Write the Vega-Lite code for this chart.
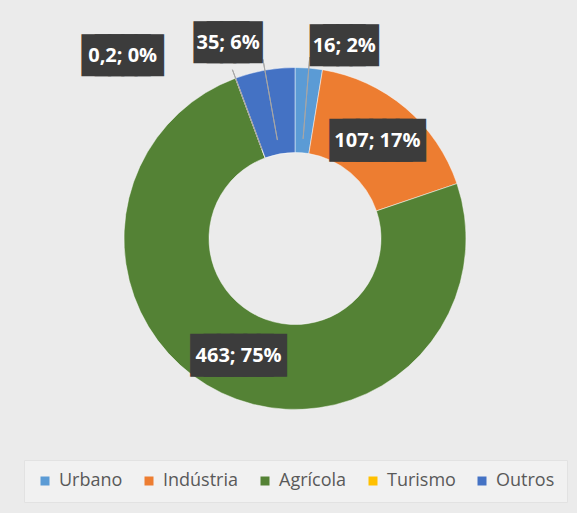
{
  "$schema": "https://vega.github.io/schema/vega-lite/v6.json",
  "width": 577,
  "height": 513,
  "autosize": {"type": "fit", "contains": "padding"},
  "padding": {"left": 6, "top": 12, "right": 6, "bottom": 0},
  "background": "#ebebeb",
  "config": {
    "view": {"stroke": null}
  },
  "data": {"values": [
    {"cat": "Urbano", "v": 16, "label": "16; 2%", "ord": 1},
    {"cat": "Indústria", "v": 107, "label": "107; 17%", "ord": 2},
    {"cat": "Agrícola", "v": 463, "label": "463; 75%", "ord": 3},
    {"cat": "Turismo", "v": 0.2, "label": "0,2; 0%", "ord": 4},
    {"cat": "Outros", "v": 35, "label": "35; 6%", "ord": 5}
  ]},
  "encoding": {
    "theta": {"field": "v", "type": "quantitative", "stack": true},
    "order": {"field": "ord", "type": "quantitative"}
  },
  "layer": [
    {
      "mark": {"type": "arc", "innerRadius": 86, "outerRadius": 171, "xOffset": 6.5, "yOffset": -24, "stroke": "#ffffff", "strokeWidth": 0.8, "strokeOpacity": 0.6},
      "encoding": {
        "color": {
          "field": "cat", "type": "nominal",
          "scale": {"domain": ["Urbano", "Indústria", "Agrícola", "Turismo", "Outros"], "range": ["#5B9BD5", "#ED7D31", "#548235", "#FFC000", "#4472C4"]},
          "legend": {"orient": "none", "legendX": 18, "legendY": 448, "direction": "horizontal", "title": null, "symbolType": "square", "symbolSize": 81, "symbolStrokeWidth": 0, "labelFont": "Open Sans", "labelFontSize": 18, "labelColor": "#595959", "columnPadding": 17, "labelOffset": 5, "padding": 12, "fillColor": "#f1f1f1", "strokeColor": "#e2e2e2"}
        }
      }
    },
    {
      "mark": {"type": "arc", "innerRadius": 100, "outerRadius": 182, "padAngle": 3, "xOffset": 6.5, "yOffset": -24, "fill": null, "stroke": "#a6a6a6", "strokeWidth": 1},
      "encoding": {"detail": {"field": "cat"}, "strokeOpacity": {"condition": {"test": "datum.cat === 'Urbano' || datum.cat === 'Outros'", "value": 1}, "value": 0}}
    },
    {
      "mark": {"type": "arc", "innerRadius": 95, "outerRadius": 180, "padAngle": 3, "xOffset": 6.5, "yOffset": -24, "fill": null, "stroke": "#a6a6a6", "strokeWidth": 1},
      "encoding": {"detail": {"field": "cat"}, "strokeOpacity": {"condition": {"test": "datum.cat === 'Turismo'", "value": 1}, "value": 0}}
    },
    {
      "mark": {"type": "text", "radius": 195, "dx": 40, "dy": -22, "align": "center", "baseline": "middle", "font": "DejaVu Sans Mono", "fontSize": 22, "fill": "#3c3c3c", "stroke": "#3c3c3c", "strokeWidth": 16, "strokeJoin": "miter"},
      "encoding": {"detail": {"field": "cat"}, "text": {"condition": {"test": "datum.cat === 'Urbano'", "value": "████"}, "value": ""}}
    },
    {
      "mark": {"type": "text", "radius": 195, "dx": 40, "dy": -22, "align": "center", "baseline": "middle", "font": "Open Sans", "fontWeight": "bold", "fontSize": 20, "fill": "#ffffff"},
      "encoding": {"detail": {"field": "cat"}, "text": {"condition": {"test": "datum.cat === 'Urbano'", "field": "label"}, "value": ""}}
    },
    {
      "mark": {"type": "text", "radius": 201, "dx": -25, "dy": -22, "align": "center", "baseline": "middle", "font": "DejaVu Sans Mono", "fontSize": 22, "fill": "#3c3c3c", "stroke": "#3c3c3c", "strokeWidth": 16, "strokeJoin": "miter"},
      "encoding": {"detail": {"field": "cat"}, "text": {"condition": {"test": "datum.cat === 'Outros'", "value": "████"}, "value": ""}}
    },
    {
      "mark": {"type": "text", "radius": 201, "dx": -25, "dy": -22, "align": "center", "baseline": "middle", "font": "Open Sans", "fontWeight": "bold", "fontSize": 20, "fill": "#ffffff"},
      "encoding": {"detail": {"field": "cat"}, "text": {"condition": {"test": "datum.cat === 'Outros'", "field": "label"}, "value": ""}}
    },
    {
      "mark": {"type": "text", "radius": 244, "dx": -81, "dy": 22, "align": "center", "baseline": "middle", "font": "DejaVu Sans Mono", "fontSize": 22, "fill": "#3c3c3c", "stroke": "#3c3c3c", "strokeWidth": 16, "strokeJoin": "miter"},
      "encoding": {"detail": {"field": "cat"}, "text": {"condition": {"test": "datum.cat === 'Turismo'", "value": "█████"}, "value": ""}}
    },
    {
      "mark": {"type": "text", "radius": 244, "dx": -81, "dy": 22, "align": "center", "baseline": "middle", "font": "Open Sans", "fontWeight": "bold", "fontSize": 20, "fill": "#ffffff"},
      "encoding": {"detail": {"field": "cat"}, "text": {"condition": {"test": "datum.cat === 'Turismo'", "field": "label"}, "value": ""}}
    },
    {
      "mark": {"type": "text", "radius": 129, "dx": 5.5, "dy": -23, "align": "center", "baseline": "middle", "font": "DejaVu Sans Mono", "fontSize": 22, "fill": "#3c3c3c", "stroke": "#3c3c3c", "strokeWidth": 17, "strokeJoin": "miter"},
      "encoding": {"detail": {"field": "cat"}, "text": {"condition": {"test": "datum.cat === 'Indústria' || datum.cat === 'Agrícola'", "value": "██████"}, "value": ""}}
    },
    {
      "mark": {"type": "text", "radius": 129, "dx": 5.5, "dy": -23, "align": "center", "baseline": "middle", "font": "Open Sans", "fontWeight": "bold", "fontSize": 20, "fill": "#ffffff"},
      "encoding": {"detail": {"field": "cat"}, "text": {"condition": {"test": "datum.cat === 'Indústria' || datum.cat === 'Agrícola'", "field": "label"}, "value": ""}}
    }
  ]
}
